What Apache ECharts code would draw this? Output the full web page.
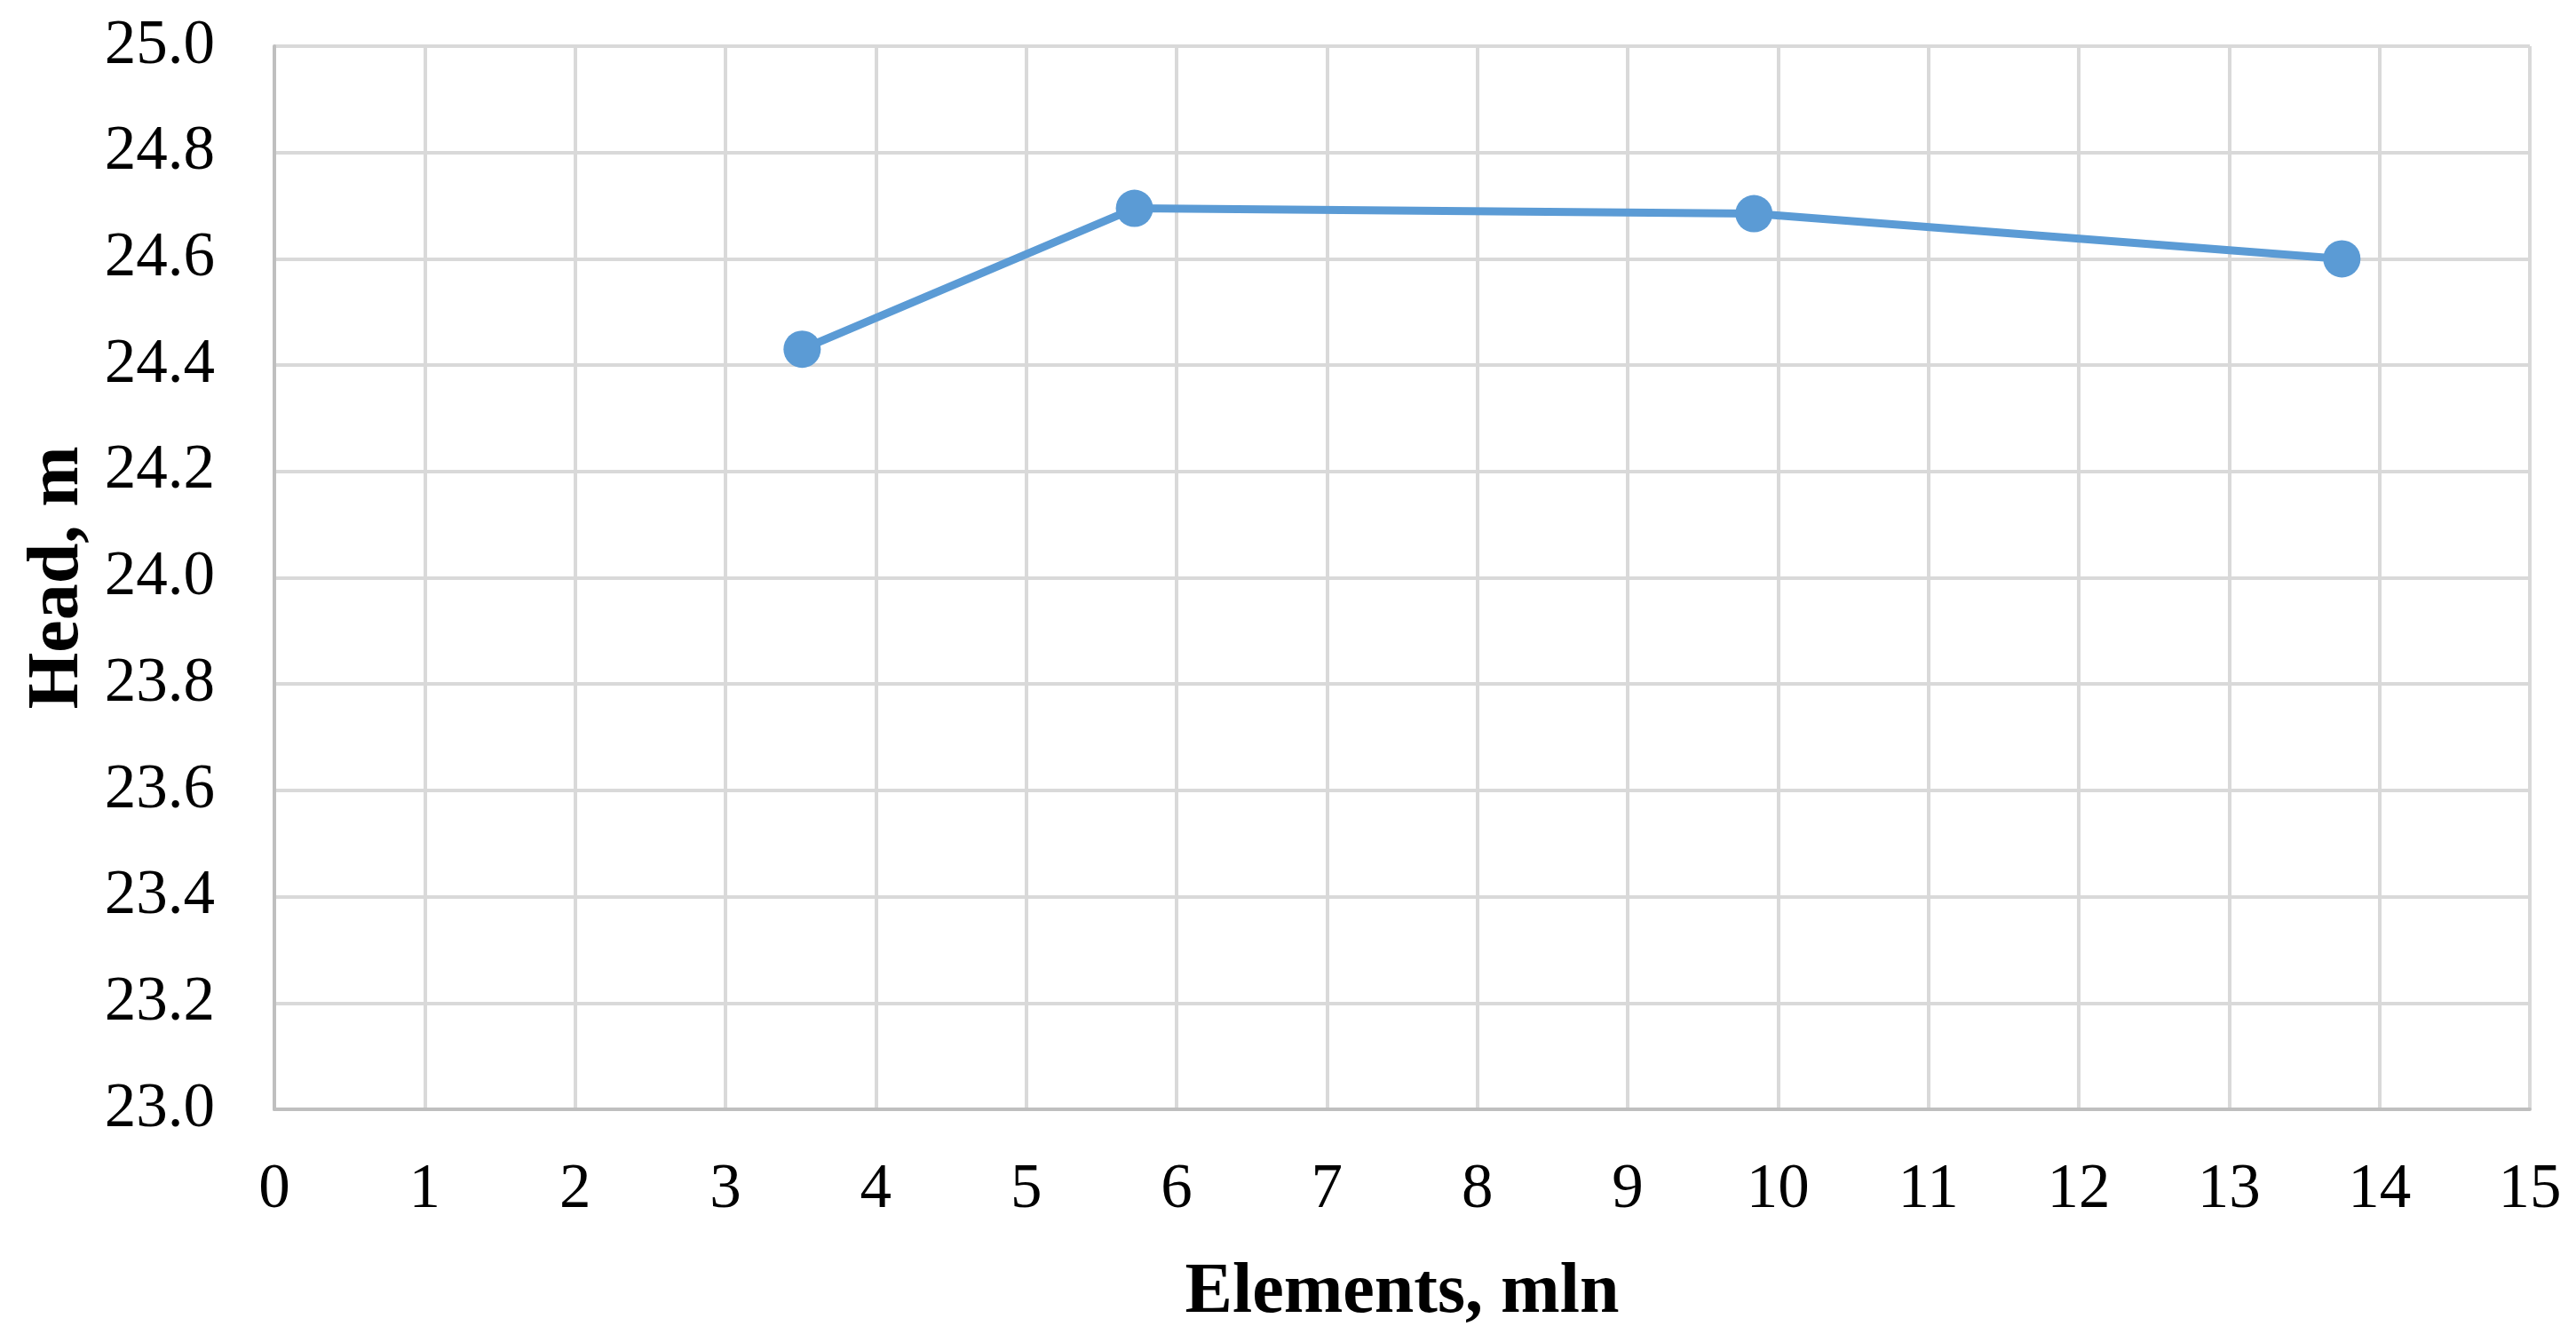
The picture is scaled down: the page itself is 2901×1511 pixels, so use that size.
<!DOCTYPE html>
<html>
<head>
<meta charset="utf-8">
<script src="https://cdn.jsdelivr.net/npm/echarts@6/dist/echarts.min.js"></script>
<style>
    html, body { margin: 0; padding: 0; background: #fff; }
    #main { width: 2901px; height: 1511px; }
</style>
</head>
<body>
<div id="main"></div>
<script>
// data
var elements = [3.51, 5.72, 9.84, 13.75];
var head = [24.43, 24.695, 24.685, 24.60];
var xTicks = [0, 15, 1];
var yTicks = [23, 25, 0.2];

var points = [];
for (let i = 0; i < elements.length; i++) {
    points.push([elements[i], head[i]]);
}

var myChart = echarts.init(document.getElementById('main'));

var gridColor = '#d9d9d9';
var axisColor = '#bfbfbf';

var option = {
    animation: false,
    textStyle: { fontFamily: 'Liberation Serif' },
    grid: { left: 309, right: 52, top: 52, bottom: 262, containLabel: false, outerBoundsMode: 'none' },
    xAxis: {
        type: 'value',
        min: xTicks[0],
        max: xTicks[1],
        interval: xTicks[2],
        name: 'Elements, mln',
        nameLocation: 'middle',
        nameGap: 167,
        nameTextStyle: { fontSize: 80, fontWeight: 'bold', color: '#000', fontFamily: 'Liberation Serif' },
        axisLine: { lineStyle: { color: axisColor, width: 4 } },
        axisTick: { show: false },
        axisLabel: { fontSize: 71, color: '#000', margin: 56, fontFamily: 'Liberation Serif' },
        splitLine: { show: true, lineStyle: { color: gridColor, width: 4 } }
    },
    yAxis: {
        type: 'value',
        min: yTicks[0],
        max: yTicks[1],
        interval: yTicks[2],
        name: 'Head, m',
        nameLocation: 'middle',
        nameGap: 200,
        nameTextStyle: { fontSize: 82, fontWeight: 'bold', color: '#000', fontFamily: 'Liberation Serif' },
        axisLine: { show: true, lineStyle: { color: axisColor, width: 4 } },
        axisTick: { show: false },
        axisLabel: {
            fontSize: 71, color: '#000', margin: 67, fontFamily: 'Liberation Serif',
            formatter: function (v) { return v.toFixed(1); }
        },
        splitLine: { show: true, lineStyle: { color: gridColor, width: 4 } }
    },
    series: [
        {
            type: 'line',
            data: points,
            symbol: 'circle',
            symbolSize: 42,
            itemStyle: { color: '#5b9bd5' },
            lineStyle: { color: '#5b9bd5', width: 9 }
        }
    ]
};

myChart.setOption(option);
</script>
</body>
</html>
